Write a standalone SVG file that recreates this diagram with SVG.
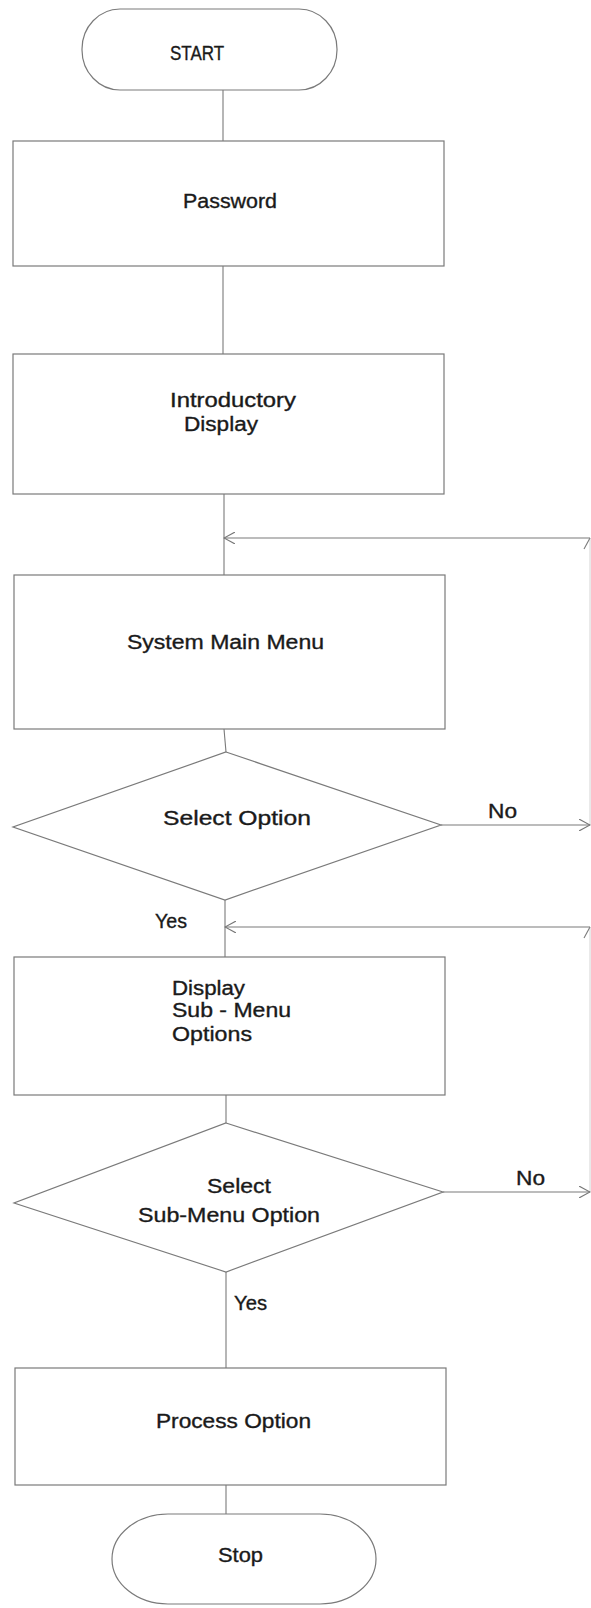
<svg xmlns="http://www.w3.org/2000/svg" width="591" height="1608" viewBox="0 0 591 1608">
<defs>
<marker id="arr" viewBox="0 0 12 12" refX="11" refY="6" markerWidth="12" markerHeight="12" markerUnits="userSpaceOnUse" orient="auto">
<path d="M0,0 L11,6 L0,12" fill="none" stroke="#777" stroke-width="1.1"/>
</marker>
<style>
.shape{fill:#fff;stroke:#7a7a7a;stroke-width:1.2}
.line{fill:none;stroke:#7a7a7a;stroke-width:1.1}
.faint{fill:none;stroke:#d4d4d4;stroke-width:1}
.t{font-family:"Liberation Sans",Arial,sans-serif;font-size:20px;fill:#1a1a1a;stroke:#1a1a1a;stroke-width:0.35}
</style>
</defs>
<rect width="591" height="1608" fill="#fff"/>
<g id="connectors">
<line class="line" x1="223" y1="90" x2="223" y2="141"/>
<line class="line" x1="223" y1="266" x2="223" y2="354"/>
<line class="line" x1="224" y1="494" x2="224" y2="575"/>
<line class="line" x1="590" y1="538" x2="224" y2="538" marker-end="url(#arr)"/>
<line class="faint" x1="590" y1="825" x2="590" y2="538"/>
<line class="line" x1="584" y1="549" x2="590" y2="538"/>
<line class="line" x1="224" y1="729" x2="226" y2="752"/>
<line class="line" x1="441" y1="825" x2="590" y2="825" marker-end="url(#arr)"/>
<line class="line" x1="225" y1="900" x2="225" y2="957"/>
<line class="line" x1="590" y1="927" x2="225" y2="927" marker-end="url(#arr)"/>
<line class="faint" x1="590" y1="1192" x2="590" y2="927"/>
<line class="line" x1="584" y1="938" x2="590" y2="927"/>
<line class="line" x1="226" y1="1095" x2="226" y2="1123"/>
<line class="line" x1="443" y1="1192" x2="590" y2="1192" marker-end="url(#arr)"/>
<line class="line" x1="226" y1="1272" x2="226" y2="1368"/>
<line class="line" x1="226" y1="1485" x2="226" y2="1514"/>
<text class="t" x="488" y="818" textLength="29" lengthAdjust="spacingAndGlyphs">No</text>
<text class="t" x="155" y="928" textLength="32" lengthAdjust="spacingAndGlyphs">Yes</text>
<text class="t" x="516" y="1185" textLength="29" lengthAdjust="spacingAndGlyphs">No</text>
<text class="t" x="234" y="1310" textLength="33" lengthAdjust="spacingAndGlyphs">Yes</text>
</g>
<g id="start">
<rect class="shape" x="82" y="9" width="255" height="81" rx="38" ry="40"/>
<text class="t" x="170" y="60" textLength="54" lengthAdjust="spacingAndGlyphs">START</text>
</g>
<g id="password">
<rect class="shape" x="13" y="141" width="431" height="125"/>
<text class="t" x="183" y="208" textLength="94" lengthAdjust="spacingAndGlyphs">Password</text>
</g>
<g id="intro">
<rect class="shape" x="13" y="354" width="431" height="140"/>
<text class="t" x="170" y="407" textLength="126" lengthAdjust="spacingAndGlyphs">Introductory</text>
<text class="t" x="184" y="431" textLength="74" lengthAdjust="spacingAndGlyphs">Display</text>
</g>
<g id="mainmenu">
<rect class="shape" x="14" y="575" width="431" height="154"/>
<text class="t" x="127" y="649" textLength="197" lengthAdjust="spacingAndGlyphs">System Main Menu</text>
</g>
<g id="selectoption">
<polygon class="shape" points="226,752 441,825 225,900 13,827"/>
<text class="t" x="163" y="825" textLength="148" lengthAdjust="spacingAndGlyphs">Select  Option</text>
</g>
<g id="submenu">
<rect class="shape" x="14" y="957" width="431" height="138"/>
<text class="t" x="172" y="995" textLength="73" lengthAdjust="spacingAndGlyphs">Display</text>
<text class="t" x="172" y="1017" textLength="119" lengthAdjust="spacingAndGlyphs">Sub - Menu</text>
<text class="t" x="172" y="1041" textLength="80" lengthAdjust="spacingAndGlyphs">Options</text>
</g>
<g id="selectsub">
<polygon class="shape" points="226,1123 443,1192 226,1272 14,1203"/>
<text class="t" x="207" y="1193" textLength="64" lengthAdjust="spacingAndGlyphs">Select</text>
<text class="t" x="138" y="1222" textLength="182" lengthAdjust="spacingAndGlyphs">Sub-Menu Option</text>
</g>
<g id="process">
<rect class="shape" x="15" y="1368" width="431" height="117"/>
<text class="t" x="156" y="1428" textLength="155" lengthAdjust="spacingAndGlyphs">Process Option</text>
</g>
<g id="stop">
<rect class="shape" x="112" y="1514" width="264" height="90" rx="56" ry="45"/>
<text class="t" x="218" y="1562" textLength="45" lengthAdjust="spacingAndGlyphs">Stop</text>
</g>
</svg>
